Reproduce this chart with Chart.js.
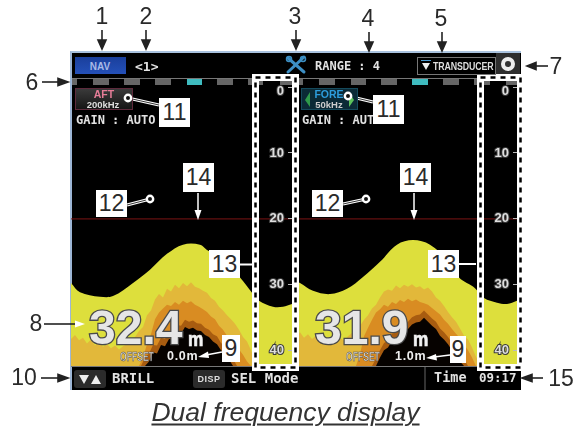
<!DOCTYPE html>
<html><head><meta charset="utf-8">
<script src="https://cdn.jsdelivr.net/npm/chart.js@4/dist/chart.umd.min.js"></script>
<style>
html,body{margin:0;padding:0;background:#fff;width:579px;height:431px;overflow:hidden}
#screen{position:absolute;left:70px;top:51px;width:451px;height:339px;background:#000;border-left:2px solid #9db6d6;border-top:2px solid #a9c2de;box-sizing:border-box}
canvas{position:absolute}
svg{position:absolute;left:0;top:0}
.t{position:absolute;white-space:nowrap;transform:translateY(-50%);line-height:1}
.c{position:absolute;white-space:nowrap;transform:translate(-50%,-50%);line-height:1}
.m{font-family:"DejaVu Sans Mono";font-weight:bold;color:#e2e2e2}
.n{font-family:"Liberation Sans";font-size:23px;color:#2a2a2a}
.b{position:absolute;background:#fff;display:flex;align-items:center;justify-content:center;font-family:"Liberation Sans";font-size:23px;color:#2a2a2a}
.big{font-family:"Liberation Sans";font-weight:bold;font-size:48px;color:#e6e6e6;-webkit-text-stroke:2.6px #4a4a4a;paint-order:stroke fill}
.unit{font-family:"Liberation Sans";font-weight:bold;font-size:21px;color:#f2f2f2;-webkit-text-stroke:.7px #f2f2f2;transform:translateY(-50%) scaleX(.82);transform-origin:left}
.off{font-family:"Liberation Sans";font-size:13px;font-weight:bold;color:#ddd;-webkit-text-stroke:.5px #444}
.sq{position:absolute;top:79px;height:6px;background:#666}
.btn{position:absolute;top:370px;height:18px;background:#2b2b2b;border-radius:3px}
</style></head><body>
<div id="screen"></div>
<div id="squares"></div>
<canvas id="aft" width="225" height="310" style="left:71px;top:60px;width:225px;height:310px"></canvas>
<canvas id="fore" width="225" height="310" style="left:296px;top:60px;width:225px;height:310px"></canvas>

<svg width="579" height="431" viewBox="0 0 579 431">
  <line x1="72" y1="78.5" x2="521" y2="78.5" stroke="#777" stroke-width="1"/>
  <line x1="71" y1="366.5" x2="521" y2="366.5" stroke="#777" stroke-width="1.2"/>
  <line x1="425" y1="367" x2="425" y2="390" stroke="#666" stroke-width="1"/>
</svg>
<svg width="579" height="431" viewBox="0 0 579 431">
  <rect x="255.5" y="77.5" width="40" height="290" fill="none" stroke="#fff" stroke-width="7"/>
  <rect x="255.5" y="77.5" width="40" height="290" fill="none" stroke="#000" stroke-width="2.5" stroke-dasharray="5 5"/>
  <rect x="480.5" y="77.5" width="40" height="290" fill="none" stroke="#fff" stroke-width="7"/>
  <rect x="480.5" y="77.5" width="40" height="290" fill="none" stroke="#000" stroke-width="2.5" stroke-dasharray="5 5"/>
  <g stroke="#3d8fc4" fill="none" stroke-width="3" stroke-linecap="round">
    <path d="M288 58 L304 72"/><path d="M304 57 L288 72"/>
    <circle cx="303" cy="59" r="2.5" stroke-width="1.5"/><circle cx="289" cy="59" r="2.5" stroke-width="1.5"/>
  </g>
  <g stroke="#222" stroke-width="1.6" fill="#222">
    <line x1="102" y1="30" x2="102" y2="42"/><polygon points="98,40 106,40 102,49"/>
    <line x1="146" y1="30" x2="146" y2="42"/><polygon points="142,40 150,40 146,49"/>
    <line x1="296" y1="30" x2="296" y2="42"/><polygon points="292,40 300,40 296,49"/>
    <line x1="369" y1="32" x2="369" y2="44"/><polygon points="365,42 373,42 369,51"/>
    <line x1="442" y1="32" x2="442" y2="44"/><polygon points="438,42 446,42 442,51"/>
    <line x1="548" y1="66" x2="534" y2="66"/><polygon points="536,62.5 536,69.5 527,66"/>
    <line x1="42" y1="82" x2="60" y2="82"/><polygon points="58,78.5 58,85.5 68,82"/>
    <line x1="44" y1="324" x2="76" y2="324"/><polygon points="75,320.5 75,327.5 85,324" fill="#fff" stroke="none"/>
    <line x1="41" y1="378" x2="60" y2="378"/><polygon points="58,374.5 58,381.5 68,378"/>
    <line x1="543" y1="378" x2="530" y2="378"/><polygon points="532,374.5 532,381.5 522,378"/>
  </g>
  <g stroke="#fff" fill="#fff" stroke-width="1.5">
    <line x1="198" y1="193" x2="198" y2="212"/><polygon points="194.5,210 201.5,210 198,220" stroke="none"/>
    <line x1="414" y1="193" x2="414" y2="212"/><polygon points="410.5,210 417.5,210 414,220" stroke="none"/>
    <line x1="222" y1="352" x2="206" y2="355"/><polygon points="208,351.5 209,358 198,357" stroke="none"/>
    <line x1="450" y1="355" x2="434" y2="357"/><polygon points="436,354 437,360.5 426,358" stroke="none"/>
    <line x1="240" y1="264.5" x2="252" y2="264.5" stroke-width="2"/>
    <line x1="459" y1="264" x2="476" y2="264" stroke-width="2"/>
    <line x1="128" y1="98" x2="159" y2="105" stroke-width="3"/><line x1="128" y1="98" x2="159" y2="105" stroke="#333" stroke-width="1"/>
    <line x1="150" y1="199" x2="127" y2="205" stroke-width="3"/><line x1="150" y1="199" x2="127" y2="205" stroke="#333" stroke-width="1"/>
    <line x1="348" y1="96" x2="373" y2="102" stroke-width="3"/><line x1="348" y1="96" x2="373" y2="102" stroke="#333" stroke-width="1"/>
    <line x1="366" y1="199" x2="343" y2="204" stroke-width="3"/><line x1="366" y1="199" x2="343" y2="204" stroke="#333" stroke-width="1"/>
  </g>
</svg>

<div style="position:absolute;left:75px;top:57px;width:51px;height:17px;background:linear-gradient(#1a3f9c,#2450b8);"></div>
<div class="c" style="left:100px;top:66px;font:bold 10px 'Liberation Sans';color:#a9b9e6">NAV</div>
<div class="t m" style="left:135px;top:66px;font-size:13px">&lt;1&gt;</div>
<div class="t m" style="left:315px;top:66px;font-size:12px">RANGE : 4</div>
<div style="position:absolute;left:417px;top:57px;width:77px;height:16px;border:1px solid #777;background:#000"></div>
<svg width="579" height="431" viewBox="0 0 579 431">
  <line x1="421" y1="60.5" x2="431" y2="60.5" stroke="#4a9ad0" stroke-width="1"/>
  <polygon points="422,63 430,63 426,70" fill="#eee"/>
</svg>
<div class="t" style="left:433px;top:66px;font:bold 10.5px 'Liberation Sans';letter-spacing:-.15px;color:#ddd;transform:translateY(-50%) scaleX(.84);transform-origin:left">TRANSDUCER</div>
<div style="position:absolute;left:496px;top:53px;width:24px;height:21px;background:#2e2e2e"></div>
<div style="position:absolute;left:500px;top:57px;width:6px;height:6px;border:4.5px solid #eee;border-radius:50%;margin-left:1px;background:#333"></div>

<div style="position:absolute;left:75px;top:88px;width:56px;height:20px;border:1px solid #5e2a3c;background:linear-gradient(#3a3a3a,#161616)"></div>
<div class="c" style="left:104px;top:94px;font:bold 10.5px 'Liberation Sans';color:#e67d98">AFT</div>
<div class="c" style="left:103px;top:104px;font:bold 9.5px 'Liberation Sans';color:#ddd">200kHz</div>
<div style="position:absolute;left:301px;top:88px;width:55px;height:20px;border:1px solid #154a5c;background:#0b2a36"></div>
<div class="c" style="left:329px;top:94px;font:bold 10.5px 'Liberation Sans';color:#2d9ddc">FORE</div>
<div class="c" style="left:329px;top:104px;font:bold 9.5px 'Liberation Sans';color:#ccc">50kHz</div>
<svg width="579" height="431" viewBox="0 0 579 431">
  <polygon points="310,92 305,100 310,107" fill="#2f9a4a"/>
  <polygon points="349,92 354,100 349,107" fill="#5cc35c"/>
</svg>
<div class="t m" style="left:76px;top:120px;font-size:12px">GAIN : AUTO</div>
<div class="t m" style="left:302px;top:120px;font-size:12px">GAIN : AUTO</div>

<svg width="579" height="431" viewBox="0 0 579 431">
  <g fill="#111" stroke="#fff" stroke-width="2.4">
    <circle cx="128" cy="98" r="3.2"/><circle cx="150" cy="199" r="3.2"/>
    <circle cx="348" cy="96" r="3.2"/><circle cx="366" cy="199" r="3.2"/>
  </g>
</svg>

<div class="t big" style="left:89px;top:328px">32.4</div>
<div class="t unit" style="left:188px;top:338px">m</div>
<div class="t off" style="left:120px;top:356px;transform:translateY(-50%) scaleX(.66);transform-origin:left">OFFSET</div>
<div class="t" style="left:167px;top:356px;font:bold 12.5px 'Liberation Sans';letter-spacing:.7px;color:#eee">0.0m</div>
<div class="t big" style="left:315px;top:328px">31.9</div>
<div class="t unit" style="left:413px;top:338px">m</div>
<div class="t off" style="left:346px;top:356px;transform:translateY(-50%) scaleX(.66);transform-origin:left">OFFSET</div>
<div class="t" style="left:395px;top:356px;font:bold 12.5px 'Liberation Sans';letter-spacing:.7px;color:#eee">1.0m</div>

<div class="btn" style="left:74px;width:32px"></div>
<svg width="579" height="431" viewBox="0 0 579 431">
  <polygon points="79,375 89,375 84,384" fill="#eee"/>
  <polygon points="91,384 101,384 96,375" fill="#eee"/>
</svg>
<div class="t m" style="left:112px;top:378px;font-size:14px">BRILL</div>
<div class="btn" style="left:193px;width:32px"></div>
<div class="c" style="left:209px;top:379px;font:bold 9px 'Liberation Sans';letter-spacing:.5px;color:#ddd">DISP</div>
<div class="t m" style="left:231px;top:378px;font-size:14px">SEL Mode</div>
<div class="t m" style="left:434px;top:378px;font-size:13.5px">Time</div>
<div class="t m" style="left:479px;top:378px;font-size:12.5px">09:17</div>

<div class="c n" style="left:102px;top:16px">1</div>
<div class="c n" style="left:146px;top:16px">2</div>
<div class="c n" style="left:295px;top:16px">3</div>
<div class="c n" style="left:368px;top:18px">4</div>
<div class="c n" style="left:441px;top:18px">5</div>
<div class="c n" style="left:556px;top:66px">7</div>
<div class="c n" style="left:32px;top:82px">6</div>
<div class="c n" style="left:36px;top:323px">8</div>
<div class="c n" style="left:24px;top:377px">10</div>
<div class="c n" style="left:561px;top:378px">15</div>
<div class="b" style="left:159px;top:98px;width:31px;height:29px">11</div>
<div class="b" style="left:373px;top:95px;width:31px;height:29px">11</div>
<div class="b" style="left:183px;top:163px;width:31px;height:29px">14</div>
<div class="b" style="left:400px;top:163px;width:31px;height:29px">14</div>
<div class="b" style="left:96px;top:190px;width:31px;height:27px">12</div>
<div class="b" style="left:312px;top:190px;width:31px;height:27px">12</div>
<div class="b" style="left:209px;top:250px;width:31px;height:28px">13</div>
<div class="b" style="left:428px;top:250px;width:31px;height:28px">13</div>
<div class="b" style="left:222px;top:335px;width:18px;height:27px">9</div>
<div class="b" style="left:450px;top:336px;width:16px;height:27px">9</div>

<div class="c" style="left:285.5px;top:412px;font:italic 26.5px 'Liberation Sans';color:#333;text-decoration:underline;text-decoration-thickness:1.5px;text-underline-offset:3px">Dual frequency display</div>

<script>
// ---- data ----
const depthTicks = [0, 10, 20, 30, 40];
const scaleLineDepth = 20;
const bottomDepth = 42.3;
const pingCount = 221;

const aftContourPings = [0,9,29,42,62,79,96,112,129,136,146,156,169,181,188,202,212,221];
const aftContourDepth = [29.7,31.1,31.8,31.7,29.7,27.7,25.3,23.9,23.9,24.7,25.6,27.0,28.9,31.2,32.4,33.3,33.3,32.9];
const foreContourPings = [0,4,17,34,51,67,84,101,117,134,151,163,179,188,201,211,221];
const foreContourDepth = [29.5,29.7,30.9,31.4,30.6,28.8,26.5,23.9,23.2,23.9,26.2,28.9,30.5,32.0,32.7,32.9,32.4];

const echoStep = 4;
const aftLightStart = 0;
const aftLight = [38.2,37.6,38.4,38.0,38.9,38.3,39.2,38.6,39.4,39.0,39.6,39.2,39.8,39.3,39.0,38.4,37.9,37.0,36.4,34.6,33.9,32.2,31.4,31.9,30.6,31.0,30.0,30.5,29.7,30.2,29.6,30.3,30.5,30.9,31.2,32.0,32.4,33.3,33.9,34.6,35.2,35.9,36.8,37.9,38.6,39.9,41.5,42.3];
const aftDarkStart = 68;
const aftDark = [42.3,41.0,39.0,37.5,35.2,34.2,33.6,33.0,33.2,32.6,33.0,32.4,32.8,32.5,33.0,33.3,33.7,34.1,34.8,35.2,36.2,36.8,37.7,38.2,38.8,39.8,40.6,41.6,42.3];
const aftBrownStart = 70;
const aftBrown = [42.3,41.0,40.4,39.1,39.2,38.0,38.2,37.1,37.0,36.1,36.2,35.3,35.6,35.4,35.8,35.9,36.5,36.8,37.5,37.8,38.8,39.3,40.2,41.2,42.3];
const aftBlackStart = 74;
const aftBlack = [42.3,41.6,40.2,40.4,39.1,39.3,38.2,38.3,37.2,37.4,36.4,36.7,36.5,36.9,37.0,37.6,37.9,38.6,39.0,39.9,40.5,41.3,42.3];

const foreLightStart = 0;
const foreLight = [37.8,37.2,38.0,37.5,38.2,37.7,38.3,37.9,38.4,38.0,38.6,38.1,38.4,37.8,37.3,36.8,36.2,35.3,34.6,33.6,33.0,31.9,31.0,30.7,30.9,30.1,30.5,30.0,30.3,29.9,30.4,30.2,30.7,30.4,31.0,31.9,32.4,33.2,34.1,34.9,35.6,36.6,37.7,38.3,39.5,40.9,41.9,42.3];
const foreDarkStart = 60;
const foreDark = [42.3,40.5,37.8,36.5,35.3,34.2,33.7,33.0,33.3,32.6,32.9,32.3,32.6,32.1,32.5,32.2,32.6,32.8,33.0,33.5,34.0,34.5,35.3,35.9,36.7,37.4,38.1,39.0,39.9,41.0,42.3];
const foreBrownStart = 76;
const foreBrown = [42.3,41.2,39.9,38.8,38.4,37.4,37.2,36.4,36.0,35.6,34.9,34.6,34.5,33.9,34.5,35.1,35.6,36.6,37.2,37.9,38.8,39.4,40.5,41.2,42.3];
const foreBlackStart = 80;
const foreBlack = [42.3,41.0,39.9,39.5,38.5,38.3,37.5,37.1,36.7,36.0,35.7,35.6,35.0,35.6,36.2,36.7,37.7,38.3,39.0,39.9,40.5,41.6,42.3];

const squaresLeft = [72,93,124,155,187,217,248,280,288,319,351,381,412,443,474,506];
const squaresWidth = [5,16,16,16,15,16,15,13,15,16,15,16,16,16,16,11];
const cyanSquares = [187,412];
// ---- end data ----

squaresLeft.forEach((x,i)=>{
  const d=document.createElement('div');d.className='sq';
  d.style.left=x+'px';d.style.width=squaresWidth[i]+'px';
  if(cyanSquares.includes(x))d.style.background='#3fbcc0';
  document.getElementById('squares').appendChild(d);
});

const seq=(start,vals)=>vals.map((y,i)=>({x:start+i*echoStep,y}));
const pairs=(xs,ys)=>xs.map((x,i)=>({x,y:ys[i]}));
const layer=(label,data,color,tension=0)=>({label,data,backgroundColor:color,borderColor:color,borderWidth:0,pointRadius:0,tension,fill:{value:bottomDepth}});

function build(id,contour,light,dark,brown,black){
  return new Chart(document.getElementById(id),{
    type:'line',
    data:{datasets:[
      {label:'Zero line',data:[{x:0,y:scaleLineDepth},{x:pingCount,y:scaleLineDepth}],borderColor:'#7c1414',borderWidth:1,pointRadius:0,fill:false},
      layer('Black',black,'#060200'),
      layer('Brown',brown,'#a85c10'),
      layer('Dark echo',dark,'#d98c22'),
      layer('Light echo',light,'#e2b83a'),
      layer('Bottom',contour,'#dddf3c',0.35)
    ]},
    options:{
      responsive:false,animation:false,devicePixelRatio:1,
      layout:{padding:{top:27,bottom:4,right:3,left:0}},
      plugins:{legend:{display:false},tooltip:{enabled:false}},
      scales:{
        x:{type:'linear',display:false,min:0,max:pingCount},
        y:{
          position:'right',reverse:true,min:0,max:bottomDepth,
          afterBuildTicks:s=>{s.ticks=depthTicks.map(value=>({value}))},
          afterFit:s=>{s.width=1;s.paddingTop=0;s.paddingBottom=0;s.paddingLeft=0;s.paddingRight=0},
          border:{display:true,color:'#999',width:1,z:2},
          grid:{drawOnChartArea:false,drawTicks:true,tickLength:-4,color:'#bbb',z:1},
          ticks:{mirror:true,z:3,padding:-8,color:'#dedede',
            font:{family:'Liberation Sans',weight:'bold',size:13,lineHeight:0.75},
            textStrokeColor:'#3a3a3a',textStrokeWidth:2,
            callback:v=>v===0?['','0']:String(v)}
        }
      }
    }
  });
}
build('aft',pairs(aftContourPings,aftContourDepth),seq(aftLightStart,aftLight),seq(aftDarkStart,aftDark),seq(aftBrownStart,aftBrown),seq(aftBlackStart,aftBlack));
build('fore',pairs(foreContourPings,foreContourDepth),seq(foreLightStart,foreLight),seq(foreDarkStart,foreDark),seq(foreBrownStart,foreBrown),seq(foreBlackStart,foreBlack));
</script>
</body></html>
